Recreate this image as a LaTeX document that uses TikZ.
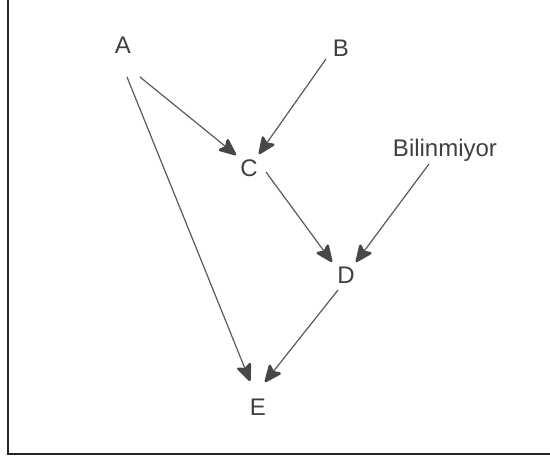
\documentclass[tikz,border=0pt]{standalone}
\usepackage{fontspec}
\setmainfont{Liberation Sans}
\usetikzlibrary{arrows.meta,calc}
\begin{document}
\begin{tikzpicture}[x=1pt,y=-1pt,
  lbl/.style={font=\fontsize{24}{28}\selectfont, text=black!75, inner sep=0pt, text height=17.2pt, text depth=0pt},
  edge/.style={draw=black!65, line width=1.2pt,
    -{Stealth[length=20pt,width=17pt,round,inset=4pt,line width=2.5pt,color=black!72,fill=black!72]}}]
\useasboundingbox (0,0) rectangle (550,457);
\draw[line width=2pt, black!85] (8,0) -- (8,454) -- (550,454);
\node[lbl] (A) at (123,45) {A};
\node[lbl] (B) at (341,48) {B};
\node[lbl] (C) at (249,168) {C};
\node[lbl] (Bil) at (445,148) {Bilinmiyor};
\node[lbl] (D) at (346,275) {D};
\node[lbl] (E) at (258,407) {E};
\draw[edge] ($(A)+(17,32)$) -- ($(C)+(-13,-13)$);
\draw[edge] ($(A)+(4,32)$) -- ($(E)+(-8,-26)$);
\draw[edge] ($(B)+(-15,11)$) -- ($(C)+(10,-14)$);
\draw[edge] ($(C)+(17,4)$) -- ($(D)+(-14,-13)$);
\draw[edge] ($(Bil)+(-16,16)$) -- ($(D)+(10,-13)$);
\draw[edge] ($(D)+(-8,15)$) -- ($(E)+(7,-25)$);
\end{tikzpicture}
\end{document}
